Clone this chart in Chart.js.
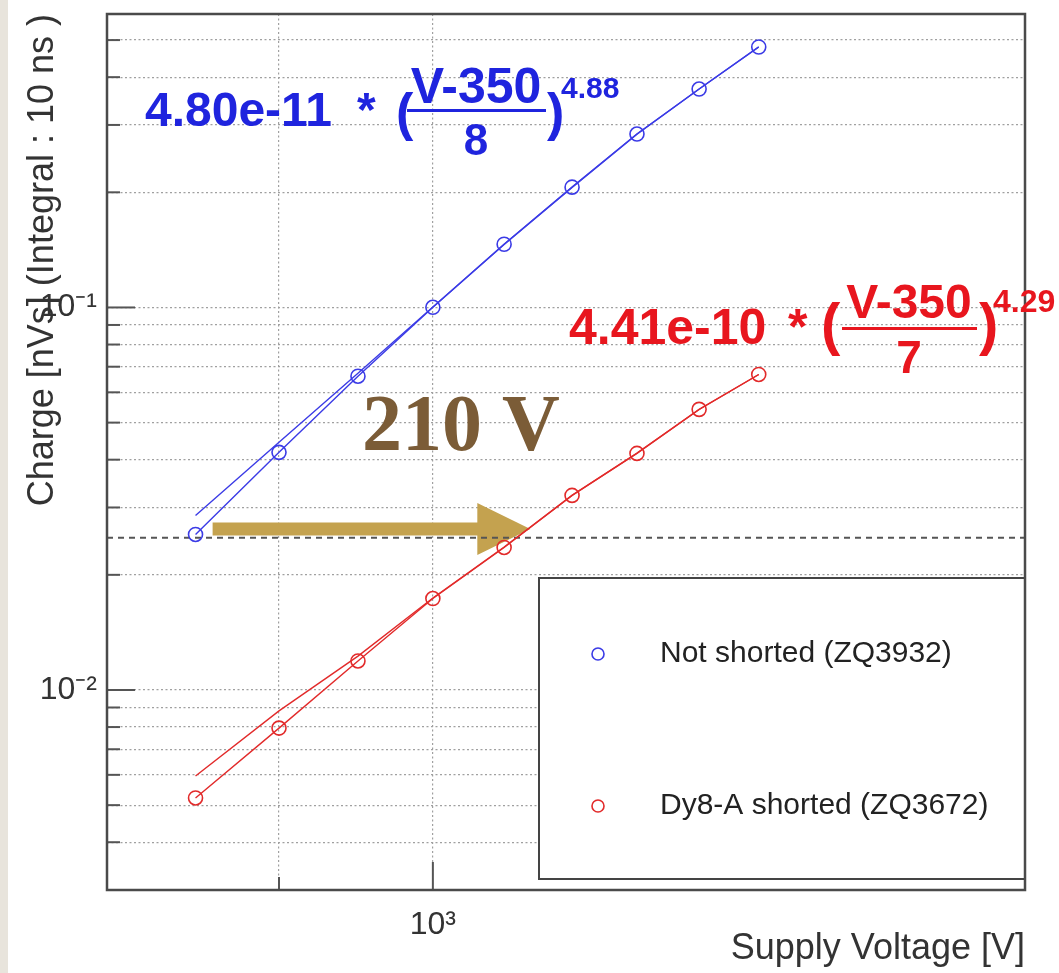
<!DOCTYPE html>
<html><head><meta charset="utf-8">
<script src="https://cdn.jsdelivr.net/npm/chart.js@4.4.1/dist/chart.umd.min.js"></script>
<style>html,body{margin:0;padding:0;background:#fff;overflow:hidden}canvas{display:block}</style>
</head><body>
<canvas id="c" width="1059" height="973"></canvas>
<script>
// ---- data ----
const voltages = [850, 900, 950, 1000, 1050, 1100, 1150, 1200, 1250];
const chargeNotShorted = [0.0255, 0.0418, 0.0661, 0.1001, 0.1463, 0.2063, 0.2840, 0.3724, 0.4796];
const fitNotShorted    = [0.0286, 0.0444, 0.0673, 0.1003, 0.1462, 0.2060, 0.2838, 0.3726, 0.4800];
const chargeShorted = [0.00522, 0.00795, 0.01191, 0.01734, 0.02358, 0.03226, 0.04154, 0.05415, 0.0668];
const fitShorted    = [0.00596, 0.00882, 0.01226, 0.01740, 0.02365, 0.03226, 0.04160, 0.05410, 0.0668];
const seriesNames = ['Not shorted (ZQ3932)', 'Dy8-A shorted (ZQ3672)'];
const xRange = [800, 1500];
const yRange = [0.003, 0.585];
const xGridValues = [800, 900, 1000];
const xLabelValues = [1000];
const xLabelTexts = ['10³'];
const yGridValues = [0.003, 0.004, 0.005, 0.006, 0.007, 0.008, 0.009, 0.01, 0.02, 0.03, 0.04, 0.05, 0.06, 0.07, 0.08, 0.09, 0.1, 0.2, 0.3, 0.4, 0.5];
const yLabelValues = [0.01, 0.1];
const yLabelTexts = ['10⁻²', '10⁻¹'];
const referenceCharge = 0.0250;
const shiftFromV = 860, shiftToV = 1069, shiftCharge = 0.02636;
const shiftLabel = '210 V';
const xTitle = 'Supply Voltage [V]';
const yTitle = 'Charge [nVs] (Integral : 10 ns )';

// ---- styles ----
const SANS = '"Liberation Sans", Arial, Helvetica, sans-serif';
const SERIF = '"Liberation Serif", "Times New Roman", serif';
const BLUE = '#3b3be6', RED = '#e22a2a';
const FBLUE = '#1f24de', FRED = '#e8161e';

function pts(ys) { return voltages.map((v, i) => ({x: v, y: ys[i]})); }

function txt(ctx, s, x, y, size, color, align, weight, fam) {
  ctx.font = (weight || 'bold') + ' ' + size + 'px ' + (fam || SANS);
  ctx.fillStyle = color; ctx.textAlign = align || 'left'; ctx.textBaseline = 'alphabetic';
  ctx.fillText(s, x, y);
}

function formula(ctx, f) {
  txt(ctx, f.coef, f.cx, f.base, f.size, f.color);
  txt(ctx, '*', f.sx, f.base, f.size, f.color);
  txt(ctx, '(', f.lpx, f.pbase, f.psize, f.color);
  txt(ctx, 'V-350', f.fx, f.nbase, f.nsize, f.color, 'center');
  ctx.fillStyle = f.color; ctx.fillRect(f.bx0, f.by, f.bx1 - f.bx0, 3);
  txt(ctx, f.den, f.fx, f.dbase, f.dsize, f.color, 'center');
  txt(ctx, ')', f.rpx, f.pbase, f.psize, f.color);
  txt(ctx, f.exp, f.ex, f.ebase, f.esize, f.color);
}

const decor = {
  id: 'decor',
  beforeDraw(chart) {
    const {ctx, width, height} = chart;
    ctx.save();
    ctx.fillStyle = '#ffffff'; ctx.fillRect(0, 0, width, height);
    ctx.fillStyle = '#e8e4dc'; ctx.fillRect(0, 0, 8, height);
    ctx.restore();
  },
  beforeDatasetsDraw(chart) {
    const {ctx, scales: {x, y}} = chart;
    const x0 = x.getPixelForValue(shiftFromV), x1 = x.getPixelForValue(shiftToV);
    const yy = y.getPixelForValue(shiftCharge);
    const half = 6.5, headHalf = 26, headLen = 53;
    ctx.save();
    ctx.fillStyle = '#c4a24f';
    ctx.beginPath();
    ctx.moveTo(x0, yy - half); ctx.lineTo(x1 - headLen, yy - half); ctx.lineTo(x1 - headLen, yy - headHalf);
    ctx.lineTo(x1, yy); ctx.lineTo(x1 - headLen, yy + headHalf); ctx.lineTo(x1 - headLen, yy + half);
    ctx.lineTo(x0, yy + half); ctx.closePath(); ctx.fill();
    ctx.restore();
  },
  afterDatasetsDraw(chart) {
    const {ctx, chartArea: a, scales: {x, y}} = chart;
    ctx.save();
    // legend box
    const L = {l: 539, t: 578, r: a.right, b: 879};
    ctx.fillStyle = '#fff'; ctx.fillRect(L.l, L.t, L.r - L.l, L.b - L.t);
    ctx.strokeStyle = '#444'; ctx.lineWidth = 2; ctx.strokeRect(L.l, L.t, L.r - L.l, L.b - L.t);
    const entries = [[seriesNames[0], BLUE, 654], [seriesNames[1], RED, 806]];
    entries.forEach(([name, col, yy]) => {
      ctx.beginPath(); ctx.arc(598, yy, 6, 0, Math.PI * 2);
      ctx.strokeStyle = col; ctx.lineWidth = 1.6; ctx.stroke();
      ctx.font = '30px ' + SANS; ctx.fillStyle = '#222'; ctx.textAlign = 'left'; ctx.textBaseline = 'middle';
      ctx.fillText(name, 660, yy);
    });
    // inner tick marks
    ctx.strokeStyle = '#555'; ctx.lineWidth = 2;
    yGridValues.forEach(v => {
      const p = y.getPixelForValue(v);
      if (p <= a.top + 1 || p >= a.bottom - 1) return;
      const len = yLabelValues.includes(v) ? 28 : 13;
      ctx.beginPath(); ctx.moveTo(a.left, p); ctx.lineTo(a.left + len, p); ctx.stroke();
    });
    xGridValues.forEach(v => {
      const p = x.getPixelForValue(v);
      if (p <= a.left + 1 || p >= a.right - 1) return;
      const len = xLabelValues.includes(v) ? 28 : 13;
      ctx.beginPath(); ctx.moveTo(p, a.bottom); ctx.lineTo(p, a.bottom - len); ctx.stroke();
    });
    // frame
    ctx.strokeStyle = '#4a4a4a'; ctx.lineWidth = 2.5;
    ctx.strokeRect(a.left, a.top, a.right - a.left, a.bottom - a.top);
    // annotations
    formula(ctx, {coef: '4.80e-11', cx: 145, base: 126, size: 48, sx: 357, lpx: 396, pbase: 130, psize: 52,
      fx: 476, nbase: 103, nsize: 50, bx0: 407, bx1: 546, by: 109, den: '8', dbase: 155, dsize: 44,
      rpx: 547, exp: '4.88', ex: 561, ebase: 98, esize: 30, color: FBLUE});
    formula(ctx, {coef: '4.41e-10', cx: 569, base: 344, size: 50, sx: 788, lpx: 821, pbase: 344, psize: 58,
      fx: 909, nbase: 318, nsize: 48, bx0: 842, bx1: 977, by: 327, den: '7', dbase: 373, dsize: 46,
      rpx: 979, exp: '4.29', ex: 993, ebase: 312, esize: 32, color: FRED});
    txt(ctx, shiftLabel, 362, 450, 80, '#7b5c37', 'left', 'bold', SERIF);
    ctx.restore();
  }
};

new Chart(document.getElementById('c'), {
  type: 'scatter',
  data: {
    datasets: [
      {label: 'fit1', data: pts(fitNotShorted), showLine: true, borderColor: BLUE, borderWidth: 1.4, pointRadius: 0, fill: false},
      {label: seriesNames[0], data: pts(chargeNotShorted), showLine: true, borderColor: BLUE, borderWidth: 1.4,
        pointRadius: 7, pointBorderWidth: 1.6, pointBackgroundColor: 'rgba(0,0,0,0)', pointBorderColor: BLUE},
      {label: 'fit2', data: pts(fitShorted), showLine: true, borderColor: RED, borderWidth: 1.4, pointRadius: 0, fill: false},
      {label: seriesNames[1], data: pts(chargeShorted), showLine: true, borderColor: RED, borderWidth: 1.4,
        pointRadius: 7, pointBorderWidth: 1.6, pointBackgroundColor: 'rgba(0,0,0,0)', pointBorderColor: RED},
      {label: 'ref', data: [{x: xRange[0], y: referenceCharge}, {x: xRange[1], y: referenceCharge}], showLine: true,
        borderColor: '#555', borderWidth: 2, borderDash: [6, 5], pointRadius: 0}
    ]
  },
  options: {
    responsive: false, animation: false, devicePixelRatio: 1, events: [],
    layout: {padding: {top: 14, right: 34, left: 0, bottom: 0}},
    plugins: {legend: {display: false}, tooltip: {enabled: false}},
    scales: {
      x: {
        type: 'logarithmic', min: xRange[0], max: xRange[1],
        afterBuildTicks: s => { s.ticks = xGridValues.map(v => ({value: v})); },
        afterFit: s => { s.height = 83; s.paddingLeft = 0; s.paddingRight = 0; },
        ticks: {autoSkip: false, maxRotation: 0, minRotation: 0, padding: 16, color: '#333', font: {family: SANS, size: 32},
          callback: v => { const i = xLabelValues.indexOf(v); return i >= 0 ? xLabelTexts[i] : ''; }},
        grid: {color: '#a0a0a0', lineWidth: 1.2, drawTicks: false},
        border: {display: false, dash: [2, 2.5]},
        title: {display: true, text: xTitle, align: 'end', color: '#333', font: {family: SANS, size: 36}, padding: {top: 0, bottom: 2}}
      },
      y: {
        type: 'logarithmic', min: yRange[0], max: yRange[1],
        afterBuildTicks: s => { s.ticks = yGridValues.map(v => ({value: v})); },
        afterFit: s => { s.width = 107; s.paddingTop = 0; s.paddingBottom = 0; },
        ticks: {autoSkip: false, padding: 10, color: '#333', font: {family: SANS, size: 32},
          callback: v => { const i = yLabelValues.indexOf(v); return i >= 0 ? yLabelTexts[i] : ''; }},
        grid: {color: '#a0a0a0', lineWidth: 1.2, drawTicks: false},
        border: {display: false, dash: [2, 2.5]},
        title: {display: true, text: yTitle, align: 'end', color: '#333', font: {family: SANS, size: 36}, padding: {top: 21, bottom: 0}}
      }
    }
  },
  plugins: [decor]
});
</script>
</body></html>
